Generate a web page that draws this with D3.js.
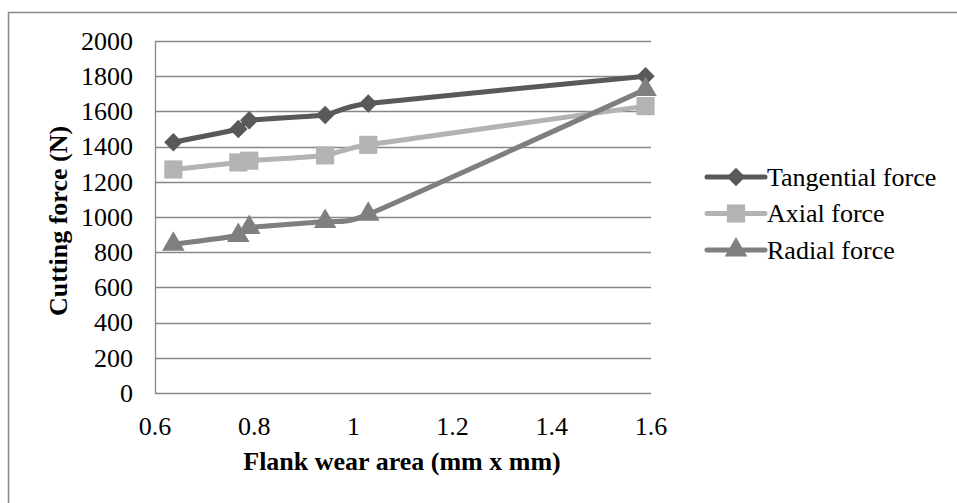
<!DOCTYPE html>
<html lang="en">
<head>
    <meta charset="UTF-8">
    <title>Cutting force vs flank wear area</title>
    <script src="https://d3js.org/d3.v7.min.js"></script>
</head>

<style>
    html, body {
        margin: 0;
        padding: 0;
        background: #fff;
    }
</style>
<body>
<svg id="chart" width="957" height="503"></svg>

<script>
    // data
    var wearArea = [0.637, 0.768, 0.79, 0.943, 1.03, 1.589]
    var tangential = [1425, 1500, 1550, 1580, 1645, 1800]
    var axial = [1270, 1310, 1320, 1350, 1410, 1630]
    var radial = [845, 895, 940, 975, 1015, 1725]

    var seriesNames = ['Tangential force', 'Axial force', 'Radial force']
    var xTicks = [0.6, 0.8, 1, 1.2, 1.4, 1.6]
    var yTicks = [0, 200, 400, 600, 800, 1000, 1200, 1400, 1600, 1800, 2000]

    var colors = ['#595959', '#b3b3b3', '#7f7f7f']
    var markers = [d3.symbolSquare, d3.symbolSquare, d3.symbolTriangle]
    var markerRot = [45, 0, 0]
    var markerSize = [170, 330, 220]
    var gridColor = '#878787'
    var font = "'Liberation Serif', 'Times New Roman', Times, serif"

    var series = [tangential, axial, radial].map(function (vals, i) {
        return {
            name: seriesNames[i],
            points: vals.map(function (v, j) { return {x: wearArea[j], y: v} })
        }
    })

    //
    // layout
    //
    var svg = d3.select('#chart')
    var plot = {left: 155, right: 651, top: 41, bottom: 393}

    var x = d3.scaleLinear().domain([0.6, 1.6]).range([plot.left, plot.right])
    var y = d3.scaleLinear().domain([0, 2000]).range([plot.bottom, plot.top])

    // outer frame
    svg.append('rect')
        .attr('x', 8.5).attr('y', 12.5)
        .attr('width', 1000).attr('height', 600)
        .attr('fill', 'none')
        .attr('stroke', '#888').attr('stroke-width', 1.5)

    // gridlines
    svg.append('g')
        .selectAll('line')
        .data(yTicks)
        .join('line')
        .attr('x1', plot.left).attr('x2', plot.right)
        .attr('y1', function (d) { return Math.round(y(d)) + 0.5 })
        .attr('y2', function (d) { return Math.round(y(d)) + 0.5 })
        .attr('stroke', gridColor).attr('stroke-width', 1.3)

    // left axis line
    svg.append('line')
        .attr('x1', plot.left + 0.5).attr('x2', plot.left + 0.5)
        .attr('y1', plot.top).attr('y2', plot.bottom + 1)
        .attr('stroke', gridColor).attr('stroke-width', 1.3)

    // y tick labels
    svg.append('g')
        .selectAll('text')
        .data(yTicks)
        .join('text')
        .attr('x', 133)
        .attr('y', function (d) { return y(d) })
        .attr('dy', '0.34em')
        .attr('text-anchor', 'end')
        .attr('font-family', font)
        .attr('font-size', 26)
        .text(function (d) { return d })

    // x tick labels
    svg.append('g')
        .selectAll('text')
        .data(xTicks)
        .join('text')
        .attr('x', function (d) { return x(d) })
        .attr('y', 435)
        .attr('text-anchor', 'middle')
        .attr('font-family', font)
        .attr('font-size', 26)
        .text(function (d) { return d3.format('')(d) })

    // axis titles
    svg.append('text')
        .attr('x', (plot.left + plot.right) / 2 - 1)
        .attr('y', 470)
        .attr('text-anchor', 'middle')
        .attr('font-family', font)
        .attr('font-size', 26)
        .attr('font-weight', 'bold')
        .text('Flank wear area (mm x mm)')

    svg.append('text')
        .attr('transform', 'translate(67,221) rotate(-90)')
        .attr('text-anchor', 'middle')
        .attr('font-family', font)
        .attr('font-size', 26)
        .attr('font-weight', 'bold')
        .text('Cutting force (N)')

    // lines + markers (light smoothing, long segments stay nearly straight)
    var line = d3.line()
        .x(function (d) { return x(d.x) })
        .y(function (d) { return y(d.y) })
        .curve(d3.curveCardinal.tension(0.5))

    var g = svg.append('g')
    series.forEach(function (s, i) {
        g.append('path')
            .datum(s.points)
            .attr('d', line)
            .attr('fill', 'none')
            .attr('stroke', colors[i])
            .attr('stroke-width', 5)
            .attr('stroke-linejoin', 'round')
    })
    series.forEach(function (s, i) {
        g.append('g')
            .selectAll('path')
            .data(s.points)
            .join('path')
            .attr('transform', function (d) {
                return 'translate(' + x(d.x) + ',' + y(d.y) + ') rotate(' + markerRot[i] + ')'
            })
            .attr('d', d3.symbol().type(markers[i]).size(markerSize[i]))
            .attr('fill', colors[i])
    })

    // legend
    var legend = svg.append('g')
        .selectAll('g')
        .data(series)
        .join('g')
        .attr('transform', function (d, i) { return 'translate(707,' + (177 + i * 36.5) + ')' })

    legend.append('line')
        .attr('x1', 0).attr('x2', 58)
        .attr('stroke', function (d, i) { return colors[i] })
        .attr('stroke-width', 5)
        .attr('stroke-linecap', 'round')

    legend.append('path')
        .attr('transform', function (d, i) { return 'translate(29,0) rotate(' + markerRot[i] + ')' })
        .attr('d', function (d, i) { return d3.symbol().type(markers[i]).size(markerSize[i])() })
        .attr('fill', function (d, i) { return colors[i] })

    legend.append('text')
        .attr('x', 60)
        .attr('dy', '0.34em')
        .attr('font-family', font)
        .attr('font-size', 26)
        .text(function (d) { return d.name })
</script>
</body>
</html>
